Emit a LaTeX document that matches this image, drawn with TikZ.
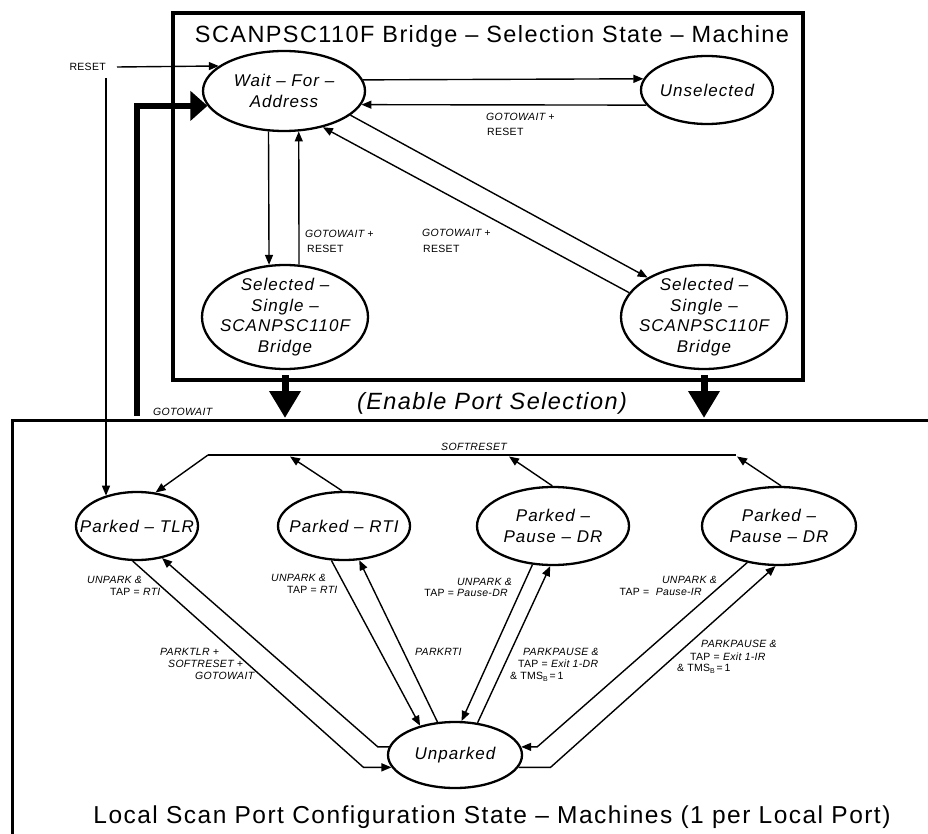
\documentclass[tikz,border=0pt]{standalone}
\usepackage{fontspec}
\setmainfont{Liberation Sans}
\newfontfamily\spfont[LetterSpace=6]{Liberation Sans}
\newfontfamily\lblfont[LetterSpace=3]{Liberation Sans}
\usetikzlibrary{shapes.geometric,arrows.meta,calc}
\tikzset{
  st/.style={draw, ellipse, line width=2.3pt, inner sep=0pt},
  sttext/.style={font=\spfont\itshape\fontsize{17}{20.5}\selectfont, align=center},
  conn/.style={line width=1.4pt, -{Triangle[length=10pt,width=8pt]}},
  fatarrow/.style={line width=7pt, -{Triangle[length=27pt,width=30pt]}},
  lbl/.style={font=\lblfont\fontsize{10.5}{12}\selectfont, inner sep=0pt},
  big/.style={font=\spfont\fontsize{23.5}{28}\selectfont, inner sep=0pt},
}
\begin{document}
\begin{tikzpicture}[x=1pt,y=-1pt]
\useasboundingbox (0,0) rectangle (928,834);
% frames
\draw[line width=3.5pt] (173,13) rectangle (803,380);
\draw[line width=3pt] (940,420) -- (12,420) -- (12,850);
% big texts
\node[big, anchor=base] (title) at (492,43) {SCANPSC110F Bridge – Selection State – Machine};
\node[big, anchor=base] (enable) at (492,409) {\itshape (Enable Port Selection)};
\node[big, anchor=base, font=\spfont\fontsize{24.5}{28}\selectfont] (bottom) at (492,823) {Local Scan Port Configuration State – Machines (1 per Local Port)};
% states
\node[st, minimum width=162pt, minimum height=80pt, label={[sttext]center:{Wait – For –\\Address}}] (wait) at (284,91) {};
\node[st, minimum width=132pt, minimum height=68pt, label={[sttext]center:{Unselected}}] (unsel) at (707,90) {};
\node[st, minimum width=166pt, minimum height=104pt, label={[sttext]center:{Selected –\\Single –\\SCANPSC110F\\Bridge}}] (sel1) at (285,317) {};
\node[st, minimum width=166pt, minimum height=104pt, label={[sttext]center:{Selected –\\Single –\\SCANPSC110F\\Bridge}}] (sel2) at (704,317) {};
\node[st, minimum width=122pt, minimum height=68pt, label={[sttext]center:{Parked – TLR}}] (tlr) at (137,526) {};
\node[st, minimum width=132pt, minimum height=68pt, label={[sttext]center:{Parked – RTI}}] (rti) at (344,526) {};
\node[st, minimum width=152pt, minimum height=78pt, label={[sttext]center:{Parked –\\Pause – DR}}] (pd1) at (553,526) {};
\node[st, minimum width=154pt, minimum height=78pt, label={[sttext]center:{Parked –\\Pause – DR}}] (pd2) at (779,526) {};
\node[st, minimum width=134pt, minimum height=66pt, label={[sttext]center:{Unparked}}] (unp) at (455,755) {};
% RESET
\node[lbl, anchor=east] (reset) at (106,67) {RESET};
\draw[conn] ([xshift=11pt]reset.east) -- (wait.159.7);
\draw[conn] ([yshift=-11pt]reset.east) -- (reset.east |- tlr.136.6);
% top machine transitions
\draw[conn] (wait.8.8) -- (unsel.170);
\draw[conn] (unsel.194.2) -- (wait.-10.45);
\draw[conn] (wait.249.1) -- (sel1.107.4);
\draw[conn] (sel1.75.8) -- (wait.-70.4);
\draw[conn] (wait.-20.9) -- (sel2.145);
\draw[conn] (sel2.162.3) -- (wait.-43);
\node[lbl, anchor=west] (l1a) at (486,117) {\itshape GOTOWAIT +};
\node[lbl, anchor=west] (l1b) at (487,132) {RESET};
\node[lbl, anchor=west] (l2a) at (305,234) {\itshape GOTOWAIT +};
\node[lbl, anchor=west] (l2b) at (307,249) {RESET};
\node[lbl, anchor=west] (l3a) at (422,233) {\itshape GOTOWAIT +};
\node[lbl, anchor=west] (l3b) at (423,249) {RESET};
% GOTOWAIT thick arrow
\coordinate (gwb) at (137,416);
\draw[line width=6pt, -{Triangle[length=17pt,width=29pt]}] (gwb) |- (wait.191.3);
\node[lbl, anchor=west] (gwl) at (153,412) {\itshape GOTOWAIT};
% enable arrows
\coordinate (lowtop) at (0,418);
\draw[fatarrow] ([yshift=-5pt]sel1.south) -- (sel1.south |- lowtop);
\draw[fatarrow] ([yshift=-5pt]sel2.south) -- (sel2.south |- lowtop);
% SOFTRESET bus
\coordinate (srl) at (208,455);
\coordinate (srr) at (736,455);
\coordinate (sr1) at (290,456.5);
\coordinate (sr2) at (509,456.5);
\coordinate (sr3) at (737,456.5);
\draw[line width=1.4pt] (srr) -- (srl);
\draw[conn] (srl) -- (tlr.61);
\draw[conn] (rti.93) -- (sr1);
\draw[conn] (pd1.91) -- (sr2);
\draw[conn] (pd2.87) -- (sr3);
\node[lbl] (srlab) at (474,447) {\itshape SOFTRESET};
% lower transitions
\draw[conn] (tlr.263.3) -- ($(unp.191.9)+(-28,0)$) -- (unp.191.9);
\draw[conn] (unp.173.9) -- ++(-11,0) -- (tlr.-52.1);
\draw[conn] (rti.250) -- (unp.140);
\draw[conn] (unp.118.6) -- (rti.-66);
\draw[conn] (pd1.242.9) -- (unp.79.3);
\draw[conn] (unp.55.1) -- (pd1.266);
\draw[conn] (pd2.229.1) -- ($(unp.7)+(16,0)$) -- (unp.7);
\draw[conn] (unp.-11.9) -- ++(32,0) -- (pd2.265.8);
% lower labels
\node[lbl, anchor=west] (a1) at (87,580) {\itshape UNPARK \&};
\node[lbl, anchor=west] (a2) at (110,592) {TAP = \itshape RTI};
\node[lbl, anchor=west] (b1) at (160,652) {\itshape PARKTLR +};
\node[lbl, anchor=west] (b2) at (168,664) {\itshape SOFTRESET +};
\node[lbl, anchor=west] (b3) at (195,676) {\itshape GOTOWAIT};
\node[lbl, anchor=west] (c1) at (271,578) {\itshape UNPARK \&};
\node[lbl, anchor=west] (c2) at (287,590) {TAP = \itshape RTI};
\node[lbl, anchor=west] (d1) at (415,652) {\itshape PARKRTI};
\node[lbl, anchor=east] (e1) at (512,582) {\itshape UNPARK \&};
\node[lbl, anchor=east] (e2) at (508,593) {TAP = \itshape Pause-DR};
\node[lbl, anchor=west] (f1) at (523,652) {\itshape PARKPAUSE \&};
\node[lbl, anchor=west] (f2) at (518,664) {TAP = \itshape Exit 1-DR};
\node[lbl, anchor=west] (f3) at (510,677) {\& TMS\raisebox{-2pt}{\fontsize{7}{7}\selectfont B}\,=\,1};
\node[lbl, anchor=east] (g1) at (717,580) {\itshape UNPARK \&};
\node[lbl, anchor=east] (g2) at (702,592) {TAP = \ \itshape Pause-IR};
\node[lbl, anchor=west] (h1) at (701,644) {\itshape PARKPAUSE \&};
\node[lbl, anchor=west] (h2) at (690,657) {TAP = \itshape Exit 1-IR};
\node[lbl, anchor=west] (h3) at (677,669) {\& TMS\raisebox{-2pt}{\fontsize{7}{7}\selectfont B}\,=\,1};
\end{tikzpicture}
\end{document}
